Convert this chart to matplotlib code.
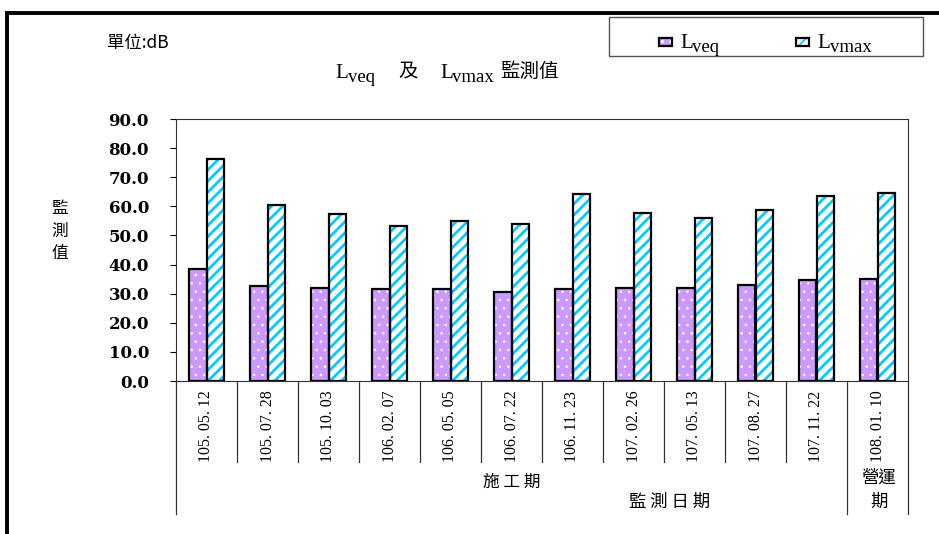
import matplotlib

matplotlib.use("Agg")
import matplotlib.pyplot as plt
from matplotlib.patches import Rectangle
import numpy as np

plt.rcParams["font.family"] = ["Noto Sans CJK TC", "DejaVu Sans"]

# values (dB)
dates = ["105. 05. 12", "105. 07. 28", "105. 10. 03", "106. 02. 07",
         "106. 05. 05", "106. 07. 22", "106. 11. 23", "107. 02. 26",
         "107. 05. 13", "107. 08. 27", "107. 11. 22", "108. 01. 10"]
lveq = [38.5, 32.8, 31.8, 31.5, 31.5, 30.5, 31.5, 32.0, 32.0, 32.9, 34.7, 35.0]
lvmax = [76.2, 60.3, 57.2, 53.4, 55.0, 54.0, 64.4, 57.7, 55.9, 58.6, 63.4, 64.7]
yticks = np.arange(0, 91, 10)
n_construction = 11  # first 11 dates are 施工期, the last one 營運期

PURPLE = "#CC99FF"
CYAN = "#00CCFF"
W, H = 939, 534


def px(x, y):
    """pixel position in the 939x534 picture -> figure fraction"""
    return x / W, 1 - y / H


def l_sub(xp, yp, sub, size=15, sub_size=13.5):
    """'L' with a large serif subscript, like the original Word chart"""
    fig.text(*px(xp, yp), "L", family="Liberation Serif", fontsize=size,
             ha="left", va="baseline")
    fig.text(*px(xp + 0.6 * size * 100 / 72, yp + 4), sub, family="Liberation Serif",
             fontsize=sub_size, ha="left", va="baseline")


fig = plt.figure(figsize=(W / 100, H / 100), dpi=100)
x0, y1 = px(176, 119)
x1, y0 = px(908, 381)
ax = fig.add_axes([x0, y0, x1 - x0, y1 - y0])

x = np.arange(len(dates))
bw = 0.295

with plt.rc_context({"hatch.linewidth": 0.6}):
    ax.bar(x - bw / 2, lveq, bw, color=PURPLE, edgecolor="white", hatch="..", lw=0, zorder=2)
with plt.rc_context({"hatch.linewidth": 2.0}):
    ax.bar(x + bw / 2, lvmax, bw, color="white", edgecolor=CYAN, hatch="///", lw=0, zorder=2)
ax.bar(x - bw / 2, lveq, bw, fill=False, edgecolor="black", lw=1.6, zorder=3)
ax.bar(x + bw / 2, lvmax, bw, fill=False, edgecolor="black", lw=1.6, zorder=3)

ax.set_xlim(-0.5, len(dates) - 0.5)
ax.set_ylim(0, 90)
ax.set_yticks(yticks)
ax.set_yticklabels([f"{v:.1f}" for v in yticks], family="DejaVu Serif",
                   fontweight="bold", fontsize=12)
ax.tick_params(axis="y", direction="out", length=4.5, width=0.8, pad=15)
ax.set_xticks(x)
ax.set_xticklabels(dates, rotation=90, family="Liberation Serif", fontsize=11.5,
                   va="top", ha="center")
ax.tick_params(axis="x", length=0, pad=7)
for s in ax.spines.values():
    s.set_linewidth(0.8)
    s.set_color("#333333")

# category separators below the axis
tr = ax.get_xaxis_transform()
for b in np.arange(-0.5, len(dates)):
    long_line = b in (-0.5, n_construction - 0.5, len(dates) - 0.5)
    ax.plot([b, b], [0, -0.508 if long_line else -0.309], transform=tr,
            clip_on=False, color="#333333", lw=0.9)

# group labels
fig.text(*px(512, 482), "施 工 期", ha="center", va="center", fontsize=12)
fig.text(*px(670, 502), "監 測 日 期", ha="center", va="center", fontsize=12.5)
fig.text(*px(879, 490), "營運\n期", ha="center", va="center", fontsize=12.5,
         linespacing=1.45)

# y label, stacked
fig.text(*px(60, 231), "監\n測\n值", ha="center", va="center", fontsize=12,
         linespacing=1.4)

# unit and title
fig.text(*px(107, 43), "單位:dB", ha="left", va="center", fontsize=12.5)
l_sub(335, 78, "veq")
fig.text(*px(398, 71), "及", ha="left", va="center", fontsize=14)
l_sub(440, 78, "vmax")
fig.text(*px(500, 71), "監測值", ha="left", va="center", fontsize=14)

# legend box
lx, ly = px(609, 56)
rx, ry = px(923, 17)
fig.patches.append(Rectangle((lx, ly), rx - lx, ry - ly, transform=fig.transFigure,
                             fill=False, edgecolor="#555555", lw=1.0))
for (mx, sub, face, hatch, hcol) in [(659, "veq", PURPLE, "..", "white"),
                                     (796, "vmax", "white", "///", CYAN)]:
    sx, sy = px(mx, 46)
    with plt.rc_context({"hatch.linewidth": 1.2}):
        fig.patches.append(Rectangle((sx, sy), 13 / W, 8 / H, transform=fig.transFigure,
                                     facecolor=face, edgecolor=hcol, hatch=hatch, lw=0))
    fig.patches.append(Rectangle((sx, sy), 13 / W, 8 / H, transform=fig.transFigure,
                                 fill=False, edgecolor="black", lw=1.6))
    l_sub(mx + 21, 48, sub)

# thick outer frame, cropped at right and bottom
fx, fy = px(7, 13)
fig.patches.append(Rectangle((fx, -0.5), 2, fy + 0.5, transform=fig.transFigure,
                             fill=False, edgecolor="black", lw=2.8))

fig.savefig("out.png", dpi=100)
